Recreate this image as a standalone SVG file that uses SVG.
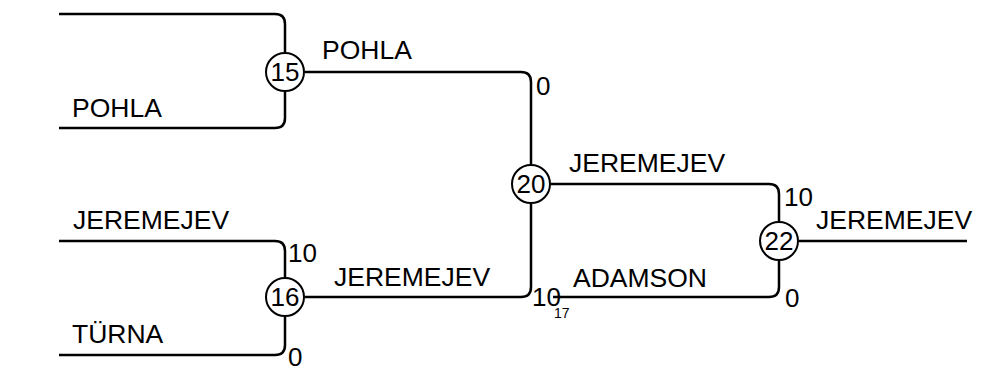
<svg xmlns="http://www.w3.org/2000/svg" width="983" height="370" viewBox="0 0 983 370">
<style>
.ln{fill:none;stroke:#000;stroke-width:2.5}
.nd{fill:#fff;stroke:#000;stroke-width:2}
text{font-family:"Liberation Sans",Arial,sans-serif;font-size:26.5px;fill:#000}
.n{font-size:26px}
.c{text-anchor:middle;font-size:26px}
.s{font-size:14px}
</style>
<rect width="983" height="370" fill="#fff"/>
<g id="connectors">
<path class="ln" d="M59,14 H275 Q285,14 285,24 V52"/>
<path class="ln" d="M59,128 H275 Q285,128 285,118 V92"/>
<path class="ln" d="M305,72 H521 Q531,72 531,82 V164"/>
<path class="ln" d="M59,241 H275 Q285,241 285,251 V277"/>
<path class="ln" d="M59,355 H275 Q285,355 285,345 V317"/>
<path class="ln" d="M305,297 H521 Q531,297 531,287 V204"/>
<path class="ln" d="M551,184 H769 Q779,184 779,194 V221"/>
<path class="ln" d="M553,297 H769 Q779,297 779,287 V261"/>
<path class="ln" d="M799,241 H967"/>
</g>
<g id="labels">
<text x="72" y="117">POHLA</text>
<text x="322" y="59">POHLA</text>
<text class="n" x="536" y="95">0</text>
<text x="73" y="229">JEREMEJEV</text>
<text class="n" x="288" y="262">10</text>
<text x="72" y="343">TÜRNA</text>
<text class="n" x="288" y="366">0</text>
<text x="334" y="286">JEREMEJEV</text>
<text x="569" y="172">JEREMEJEV</text>
<text class="n" x="784" y="206">10</text>
<text x="573" y="287">ADAMSON</text>
<text class="n" x="532" y="306">10</text>
<text class="s" x="554" y="318">17</text>
<text class="n" x="785" y="307">0</text>
<text x="816" y="229">JEREMEJEV</text>
</g>
<g id="n15"><circle class="nd" cx="285" cy="72" r="19"/><text class="c" x="285" y="81">15</text></g>
<g id="n16"><circle class="nd" cx="285" cy="297" r="19"/><text class="c" x="285" y="306">16</text></g>
<g id="n20"><circle class="nd" cx="531" cy="184" r="19"/><text class="c" x="531" y="193">20</text></g>
<g id="n22"><circle class="nd" cx="779" cy="241" r="19"/><text class="c" x="779" y="250">22</text></g>
</svg>
